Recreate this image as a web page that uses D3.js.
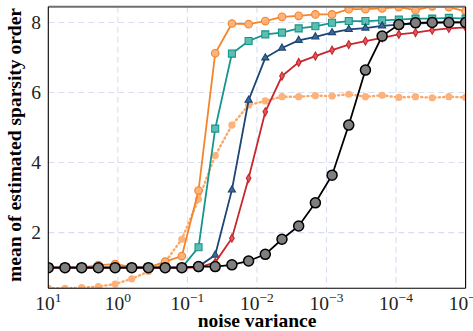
<!DOCTYPE html>
<html lang="en">
<head>
    <meta charset="UTF-8">
    <title>Sparsity order vs noise variance</title>
    <script src="https://d3js.org/d3.v7.min.js"></script>
    <style>
        body { margin: 0; background: #fff; }
        svg { display: block; }
    </style>
</head>
<body>
    <script>
        // noise variances (log spaced, 10^1 .. 10^-5)
        const noiseVar = [10, 5.754, 3.311, 1.905, 1.096, 0.631, 0.3631, 0.2089, 0.1202, 0.06918,
            0.03981, 0.02291, 0.01318, 0.007586, 0.004365, 0.002512, 0.001445, 0.0008318,
            0.0004786, 0.0002754, 0.0001585, 0.0000912, 0.0000525, 0.0000302, 0.0000174, 0.00001];

        const orangeSolid = [1.0, 1.0, 1.0, 1.07, 1.1, 1.02, 1.0, 1.17, 1.33, 3.2,
            7.12, 7.97, 7.95, 8.04, 8.16, 8.19, 8.23, 8.23, 8.38, 8.38,
            8.4, 8.44, 8.35, 8.46, 8.44, 8.32];
        const teal = [1.0, 1.0, 1.0, 1.0, 1.0, 1.0, 1.0, 1.0, 1.0, 1.58,
            4.97, 7.11, 7.47, 7.66, 7.71, 7.83, 7.89, 7.99, 8.04, 8.04,
            8.06, 8.08, 8.11, 8.11, 8.13, 8.11];
        const navy = [1.0, 1.0, 1.0, 1.0, 1.0, 1.0, 1.0, 1.0, 1.0, 1.03,
            1.36, 3.22, 5.78, 6.99, 7.27, 7.49, 7.59, 7.71, 7.8, 7.84,
            7.9, 7.94, 7.97, 7.99, 8.0, 8.0];
        const red = [1.0, 1.0, 1.0, 1.0, 1.0, 1.0, 1.0, 1.0, 1.0, 1.0,
            1.15, 1.84, 3.55, 5.45, 6.47, 6.86, 7.04, 7.21, 7.37, 7.47,
            7.56, 7.66, 7.71, 7.78, 7.83, 7.86];
        const black = [1.0, 1.0, 1.0, 1.0, 1.0, 1.0, 1.0, 1.0, 1.0, 1.03,
            1.03, 1.08, 1.19, 1.38, 1.81, 2.19, 2.85, 3.64, 5.07, 6.64,
            7.61, 7.94, 7.99, 8.0, 8.0, 8.0];
        const orangeDotted = [0.41, 0.41, 0.43, 0.46, 0.53, 0.68, 0.89, 1.16, 1.81, 2.95,
            4.2, 5.07, 5.64, 5.76, 5.88, 5.88, 5.91, 5.9, 5.95, 5.88,
            5.92, 5.86, 5.88, 5.85, 5.88, 5.86];

        const xTicks = [1, 0, -1, -2, -3, -4, -5];
        const yTicks = [2, 4, 6, 8];

        const width = 473, height = 331;
        const pLeft = 48.3, pRight = 465.6, pTop = 6.7, pBottom = 288.3;

        const svg = d3.select('body').append('svg')
            .attr('width', width)
            .attr('height', height);

        const x = d3.scaleLog().domain([10, 1e-5]).range([pLeft, pRight]);
        const y = d3.scaleLinear().domain([0.41, 8.45]).range([pBottom, pTop]);

        svg.append('defs').append('clipPath').attr('id', 'plot')
            .append('rect')
            .attr('x', pLeft).attr('y', pTop)
            .attr('width', pRight - pLeft).attr('height', pBottom - pTop);

        // grid
        const grid = svg.append('g')
            .attr('stroke', '#d9ddf0')
            .attr('stroke-width', 1.1)
            .attr('stroke-dasharray', '6,4');
        grid.selectAll('.gx').data(xTicks.slice(1, -1)).enter().append('line')
            .attr('x1', d => x(Math.pow(10, d))).attr('x2', d => x(Math.pow(10, d)))
            .attr('y1', pTop).attr('y2', pBottom);
        grid.selectAll('.gy').data(yTicks).enter().append('line')
            .attr('x1', pLeft).attr('x2', pRight)
            .attr('y1', d => y(d)).attr('y2', d => y(d));

        const plot = svg.append('g').attr('clip-path', 'url(#plot)');
        const line = d3.line().x((d, i) => x(noiseVar[i])).y(d => y(d));

        const series = [
            { data: orangeDotted, color: '#fba866', fill: '#fdb27c', edge: 'none', marker: 'circle', r: 3.6, dash: '1.2,3.2', width: 2.4 },
            { data: orangeSolid, color: '#f5852a', fill: '#fcb27a', edge: '#f5852a', marker: 'circle', r: 3.8, width: 1.8 },
            { data: teal, color: '#15968a', fill: '#5fbcb1', edge: '#15968a', marker: 'square', r: 3.5, width: 1.8 },
            { data: navy, color: '#1b4572', fill: '#3e6897', edge: '#1b4572', marker: 'triangle', r: 2.7, width: 1.8 },
            { data: red, color: '#c8262d', fill: '#dc5a5c', edge: '#c8262d', marker: 'diamond', r: 3.1, width: 1.8 },
            { data: black, color: '#000', fill: '#7f7f7f', edge: '#000', marker: 'circle', r: 5, width: 1.8, edgeW: 1.5 }
        ];

        const symbols = {
            circle: d3.symbolCircle,
            square: d3.symbolSquare,
            triangle: d3.symbolTriangle
        };

        series.forEach(s => {
            plot.append('path')
                .datum(s.data)
                .attr('d', line)
                .attr('fill', 'none')
                .attr('stroke', s.color)
                .attr('stroke-width', s.width)
                .attr('stroke-linecap', s.dash ? 'round' : 'butt')
                .attr('stroke-dasharray', s.dash || null);

            const m = plot.append('g')
                .attr('fill', s.fill)
                .attr('stroke', s.edge)
                .attr('stroke-width', s.edgeW || 1.1);
            s.data.forEach((v, i) => {
                const cx = x(noiseVar[i]), cy = y(v);
                if (s.marker === 'circle') {
                    m.append('circle').attr('cx', cx).attr('cy', cy).attr('r', s.r);
                } else if (s.marker === 'diamond') {
                    const w = s.r * 0.75, h = s.r * 1.3;
                    m.append('path')
                        .attr('d', `M${cx},${cy - h}L${cx + w},${cy}L${cx},${cy + h}L${cx - w},${cy}Z`);
                } else {
                    const size = s.marker === 'square' ? Math.pow(2 * s.r, 2) : Math.pow(2 * s.r, 2) * 0.75;
                    m.append('path')
                        .attr('transform', `translate(${cx},${cy})`)
                        .attr('d', d3.symbol().type(symbols[s.marker]).size(size)());
                }
            });
        });

        // frame
        svg.append('line').attr('x1', pLeft).attr('x2', pRight).attr('y1', pTop).attr('y2', pTop)
            .attr('stroke', '#6e6e6e').attr('stroke-width', 2);
        svg.append('line').attr('x1', pLeft).attr('x2', pLeft).attr('y1', pTop).attr('y2', pBottom)
            .attr('stroke', '#000').attr('stroke-width', 1.1);
        svg.append('line').attr('x1', pRight).attr('x2', pRight).attr('y1', pTop).attr('y2', pBottom)
            .attr('stroke', '#000').attr('stroke-width', 1.1);
        svg.append('line').attr('x1', pLeft).attr('x2', pRight).attr('y1', pBottom).attr('y2', pBottom)
            .attr('stroke', '#000').attr('stroke-width', 1.1);

        const serif = "'Liberation Serif', 'DejaVu Serif', serif";

        // y tick labels
        svg.selectAll('.ylab').data(yTicks).enter().append('text')
            .attr('x', 41)
            .attr('y', d => y(d) + 6.5)
            .attr('text-anchor', 'end')
            .attr('font-family', serif)
            .attr('font-size', 19.5)
            .attr('fill', '#222')
            .text(d => d);

        // x tick labels
        const xl = svg.selectAll('.xlab').data(xTicks).enter().append('text')
            .attr('x', d => x(Math.pow(10, d)))
            .attr('y', 309.5)
            .attr('text-anchor', 'middle')
            .attr('font-family', serif)
            .attr('font-size', 19.5)
            .attr('fill', '#222');
        xl.append('tspan').text('10');
        xl.append('tspan')
            .attr('dy', -8)
            .attr('font-size', 13.5)
            .text(d => d < 0 ? '\u2212' + (-d) : d);

        // axis titles
        svg.append('text')
            .attr('x', 257)
            .attr('y', 326.5)
            .attr('text-anchor', 'middle')
            .attr('font-family', "'Liberation Serif', serif")
            .attr('font-weight', 'bold')
            .attr('font-size', 19.5)
            .text('noise variance');

        svg.append('text')
            .attr('transform', 'translate(21,145) rotate(-90)')
            .attr('text-anchor', 'middle')
            .attr('font-family', "'Liberation Serif', serif")
            .attr('font-weight', 'bold')
            .attr('font-size', 19.5)
            .text('mean of estimated sparsity order');
    </script>
</body>
</html>
